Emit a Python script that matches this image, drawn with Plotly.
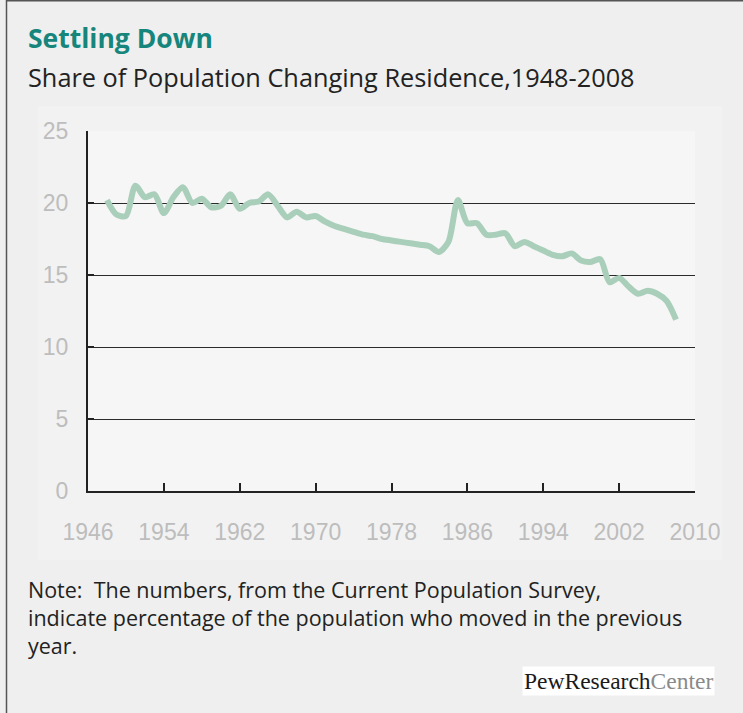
import plotly.graph_objects as go

years = list(range(1948, 2009))
share_moved = [
    20.2, 19.2, 19.1, 21.2, 20.4, 20.6, 19.3, 20.4, 21.1, 20.0,   # 1948-1957
    20.3, 19.7, 19.8, 20.6, 19.6, 20.0, 20.1, 20.6, 19.8, 19.0,   # 1958-1967
    19.4, 19.0, 19.1, 18.7, 18.4, 18.2, 18.0, 17.8, 17.7, 17.5,   # 1968-1977
    17.4, 17.3, 17.2, 17.1, 17.0, 16.6, 17.3, 20.2, 18.6, 18.6,   # 1978-1987
    17.8, 17.8, 17.9, 17.0, 17.3, 17.0, 16.7, 16.4, 16.3, 16.5,   # 1988-1997
    16.0, 15.9, 16.1, 14.5, 14.8, 14.2, 13.7, 13.9, 13.7, 13.2,   # 1998-2007
    11.9,                                                         # 2008
]
x_ticks = [1946, 1954, 1962, 1970, 1978, 1986, 1994, 2002, 2010]
y_ticks = [0, 5, 10, 15, 20, 25]

title = "Settling Down"
subtitle = "Share of Population Changing Residence,1948-2008"
note_lines = [
    "Note:  The numbers, from the Current Population Survey,",
    "indicate percentage of the population who moved in the previous",
    "year.",
]

W, H = 743, 713
L, R, T, B = 88, 695, 131, 491  # plot area in pixels


def px(xp):
    return (xp - L) / (R - L)


def py(yp):
    return (B - yp) / (B - T)


fig = go.Figure()
fig.add_trace(go.Scatter(
    x=years, y=share_moved, mode="lines",
    line=dict(color="#a9cfbb", width=6, shape="spline", smoothing=0.8),
    hoverinfo="skip", showlegend=False,
))

tick_font = dict(family="Liberation Sans, Arial, sans-serif", size=23, color="#bdbdbd")

fig.update_xaxes(
    range=[1946, 2010], tickvals=x_ticks, ticktext=[str(v) for v in x_ticks],
    showgrid=False, zeroline=False, showline=True, linecolor="#222", linewidth=2,
    ticks="inside", ticklen=8, tickwidth=1.5, tickcolor="#222",
    tickfont=tick_font, ticklabelstandoff=19, fixedrange=True,
)
fig.update_yaxes(
    range=[0, 25], tickvals=y_ticks, showgrid=True, gridcolor="#2a2a2a", gridwidth=1.3,
    zeroline=False, showline=True, linecolor="#222", linewidth=2,
    ticks="inside", ticklen=6, tickwidth=2, tickcolor="#222",
    tickfont=tick_font, ticklabelstandoff=13, fixedrange=True,
)

shapes = [
    # chart panel
    dict(type="rect", xref="paper", yref="paper", x0=px(38), x1=px(722), y0=py(560), y1=py(106),
         fillcolor="#f2f2f2", line=dict(width=0), layer="below"),
    # plot area
    dict(type="rect", xref="paper", yref="paper", x0=px(L), x1=px(R), y0=py(B), y1=py(T),
         fillcolor="#f6f6f6", line=dict(width=0), layer="below"),
    # outer borders
    dict(type="line", xref="paper", yref="paper", x0=px(6.5), x1=px(6.5), y0=py(0), y1=py(H),
         line=dict(color="#555", width=1.5)),
    dict(type="line", xref="paper", yref="paper", x0=px(6.5), x1=px(W), y0=py(0.7), y1=py(0.7),
         line=dict(color="#555", width=1.5)),
]

annotations = [
    dict(text="<b>" + title + "</b>", x=px(26), y=py(38), xref="paper", yref="paper",
         xanchor="left", yanchor="middle", showarrow=False,
         font=dict(family="Open Sans, sans-serif", size=26.5, color="#16857c")),
    dict(text=subtitle, x=px(26), y=py(77), xref="paper", yref="paper",
         xanchor="left", yanchor="middle", showarrow=False,
         font=dict(family="Open Sans, sans-serif", size=25.3, color="#222")),
    dict(text="<br>".join(note_lines), x=px(26), y=py(617), xref="paper", yref="paper",
         xanchor="left", yanchor="middle", align="left", showarrow=False,
         font=dict(family="Open Sans, sans-serif", size=21.5, color="#222")),
    dict(text="PewResearch<span style='color:#8a8a8a'>Center</span>",
         x=px(618), y=py(681), xref="paper", yref="paper",
         xanchor="center", yanchor="middle", showarrow=False, bgcolor="#ffffff",
         borderpad=1,
         font=dict(family="Liberation Serif, serif", size=23.5, color="#1a1a1a")),
]

fig.update_layout(
    width=W, height=H,
    margin=dict(l=L, r=W - R, t=T, b=H - B),
    paper_bgcolor="#eeefee", plot_bgcolor="rgba(0,0,0,0)",
    shapes=shapes, annotations=annotations, showlegend=False,
)

fig.write_html("out.html", config={"displayModeBar": False},
               post_script="document.body.style.margin='0';document.body.style.overflow='hidden';")
